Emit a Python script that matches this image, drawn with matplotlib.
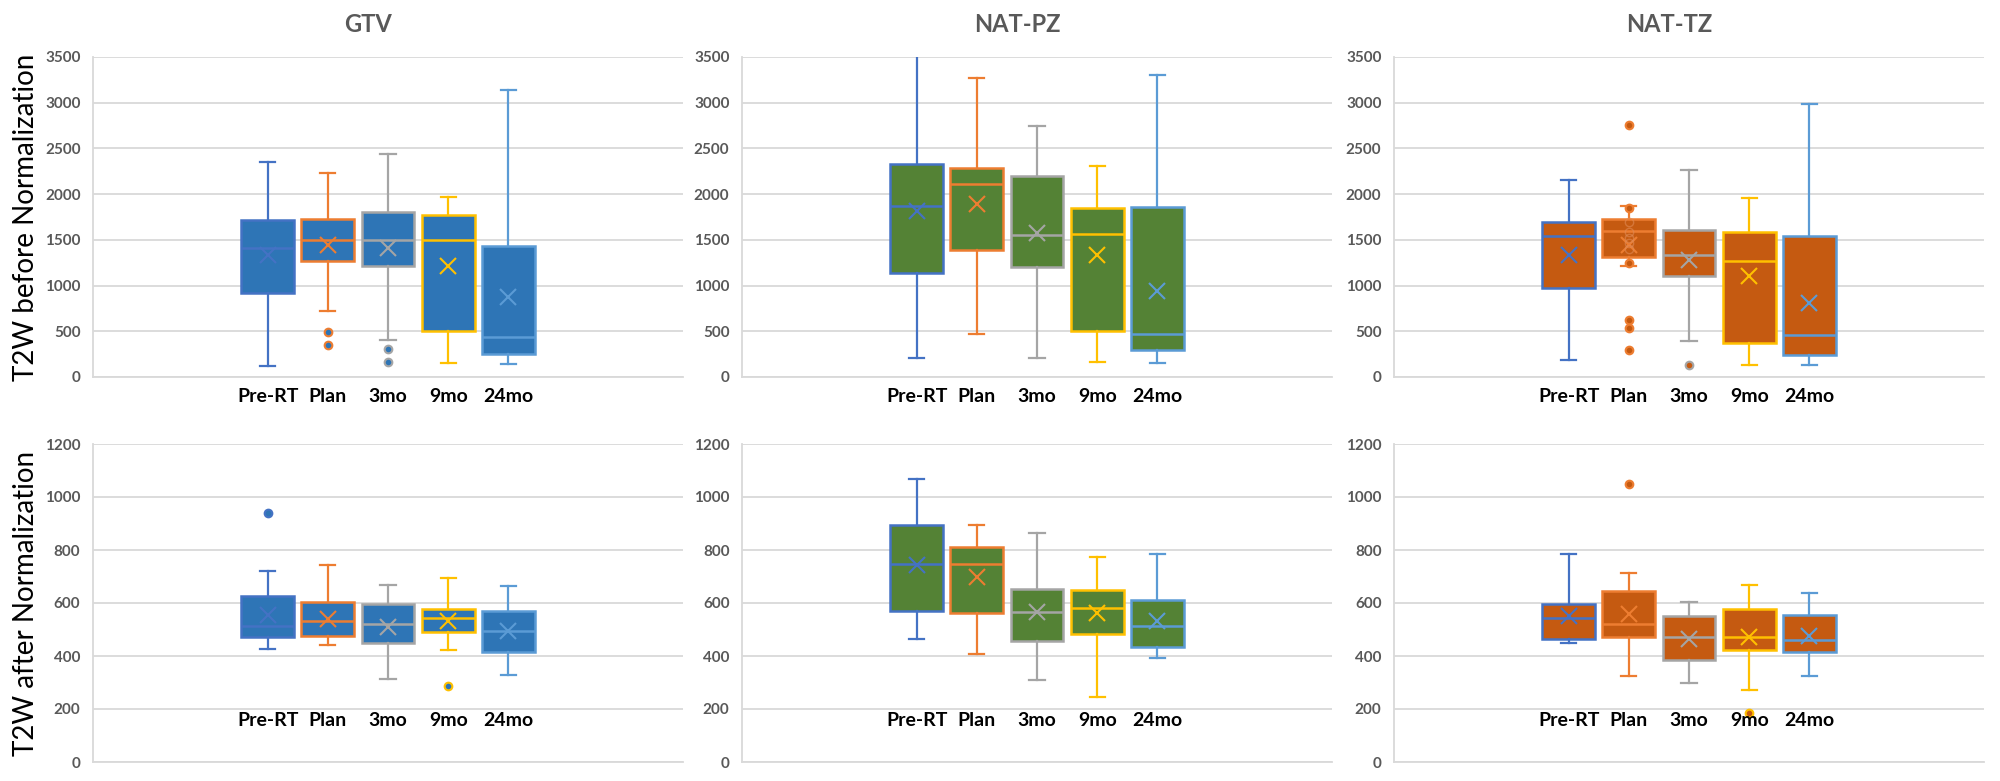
import matplotlib.pyplot as plt
from matplotlib.transforms import blended_transform_factory

plt.rcParams['font.family'] = ['Lato', 'DejaVu Sans']

regions = ["GTV", "NAT-PZ", "NAT-TZ"]
timepoints = ["Pre-RT", "Plan", "3mo", "9mo", "24mo"]

# T2W before normalization: one row per region, one value per timepoint
before_whislo = [[117, 718, 410, 150, 139],
                 [212, 469, 205, 168, 157],
                 [187, 1219, 395, 128, 128]]
before_q1 = [[915, 1267, 1219, 498, 249],
             [1139, 1384, 1201, 498, 300],
             [974, 1311, 1106, 370, 242]]
before_med = [[1413, 1501, 1501, 1501, 439],
              [1867, 2116, 1549, 1567, 469],
              [1538, 1593, 1329, 1267, 458]]
before_q3 = [[1713, 1724, 1801, 1768, 1431],
             [2328, 2281, 2197, 1845, 1856],
             [1695, 1732, 1604, 1585, 1538]]
before_whishi = [[2347, 2226, 2438, 1970, 3134],
                 [3560, 3266, 2746, 2303, 3302],
                 [2153, 1867, 2263, 1962, 2984]]
before_mean = [[1329, 1446, 1413, 1219, 871],
               [1816, 1889, 1578, 1329, 945],
               [1329, 1439, 1281, 1109, 809]]
before_fliers = [[[], [487, 351], [311, 168], [], []],
                 [[], [], [], [], []],
                 [[], [2753, 1852, 1248, 622, 531, 293], [128], [], []]]
# faint inner points shown inside the NAT-TZ Plan box
tz_plan_inner = [1695, 1585, 1523, 1468, 1402]

# T2W after normalization
after_whislo = [[426, 441, 312, 422, 329],
                [465, 408, 310, 246, 392],
                [448, 325, 298, 272, 325]]
after_q1 = [[472, 477, 448, 491, 414],
            [568, 564, 458, 482, 434],
            [465, 472, 385, 422, 416]]
after_med = [[515, 531, 519, 544, 495],
             [749, 747, 567, 582, 514],
             [544, 519, 471, 471, 462]]
after_q3 = [[628, 603, 596, 577, 568],
            [894, 813, 654, 648, 613],
            [597, 645, 550, 577, 554]]
after_whishi = [[720, 743, 667, 696, 664],
                [1069, 895, 866, 773, 786],
                [786, 714, 604, 667, 637]]
after_mean = [[554, 541, 510, 533, 494],
              [745, 699, 567, 564, 533],
              [551, 558, 463, 472, 476]]
after_fliers = [[[941], [], [], [286], []],
                [[], [], [], [], []],
                [[], [1049], [], [185], []]]

edge_colors = ["#4472C4", "#ED7D31", "#A5A5A5", "#FFC000", "#5B9BD5"]
fill_colors = ["#2E75B6", "#548235", "#C55A11"]
grid_col = "#D9D9D9"
tick_col = "#595959"

fig = plt.figure(figsize=(20, 7.81), dpi=100)

lefts = [93 / 2000, 742 / 2000, 1394 / 2000]
width = 590 / 2000
row_boxes = [(1 - 377 / 781, 320 / 781), (1 - 762 / 781, 318 / 781)]

rows = [
    (before_whislo, before_q1, before_med, before_q3, before_whishi, before_mean, before_fliers,
     3500, 500, -0.0625, "T2W before Normalization"),
    (after_whislo, after_q1, after_med, after_q3, after_whishi, after_mean, after_fliers,
     1200, 200, 0.129, "T2W after Normalization"),
]

pos = [1, 2, 3, 4, 5]

for r, (wlo, q1, med, q3, whi, mean, fl, ymax, ystep, label_y, ylab) in enumerate(rows):
    bottom, height = row_boxes[r]
    for c, region in enumerate(regions):
        ax = fig.add_axes([lefts[c], bottom, width, height])
        stats = []
        for i, tp in enumerate(timepoints):
            stats.append(dict(label=tp, whislo=wlo[c][i], q1=q1[c][i], med=med[c][i],
                              q3=q3[c][i], whishi=whi[c][i], mean=mean[c][i],
                              fliers=fl[c][i]))
        bp = ax.bxp(stats, positions=pos, widths=0.88, capwidths=0.25,
                    patch_artist=True, showmeans=True, showfliers=True)
        for i in range(5):
            ec = edge_colors[i]
            bp['boxes'][i].set(facecolor=fill_colors[c], edgecolor=ec, linewidth=1.8)
            bp['medians'][i].set(color=ec, linewidth=1.8)
            for ln in bp['whiskers'][2 * i:2 * i + 2] + bp['caps'][2 * i:2 * i + 2]:
                ln.set(color=ec, linewidth=1.6)
            bp['means'][i].set(marker='x', markersize=11, markeredgewidth=1.5,
                               markeredgecolor=ec, markerfacecolor='none')
            bp['fliers'][i].set(marker='o', markersize=5.5, markerfacecolor=fill_colors[c],
                                markeredgecolor=ec, markeredgewidth=1.5)

        if r == 0 and c == 2:
            ax.plot([2] * len(tz_plan_inner), tz_plan_inner, 'o', ms=6, mfc='none',
                    mec='#E08A55', mew=1.0, alpha=0.6, zorder=4)

        ax.set_xlim(-1.9, 7.9)
        ax.set_ylim(0, ymax)
        ax.set_yticks(range(0, ymax + 1, ystep))
        ax.set_xticks([])
        ax.grid(axis='y', color=grid_col, linewidth=1.3)
        ax.set_axisbelow(True)
        for s in ['top', 'right']:
            ax.spines[s].set_visible(False)
        for s in ['left', 'bottom']:
            ax.spines[s].set_color(grid_col)
            ax.spines[s].set_linewidth(1.3)
        ax.tick_params(axis='y', length=0, pad=9, labelcolor=tick_col, labelsize=11)
        for t in ax.get_yticklabels():
            t.set_fontweight('bold')

        trans = blended_transform_factory(ax.transData, ax.transAxes)
        for p, tp in zip(pos, timepoints):
            ax.text(p, label_y, tp, transform=trans, ha='center', va='center',
                    fontsize=14, fontweight='bold', color='black', clip_on=False)

        if r == 0:
            fig.text(lefts[c] + width / 2 - 20 / 2000, 1 - 25 / 781, region,
                     ha='center', va='center', fontsize=17, fontweight='bold',
                     color=tick_col)
        if c == 0:
            fig.text(26 / 2000, bottom + height / 2, ylab, rotation=90,
                     ha='center', va='center', fontsize=20, color='black')

fig.savefig("out.png", dpi=100)
